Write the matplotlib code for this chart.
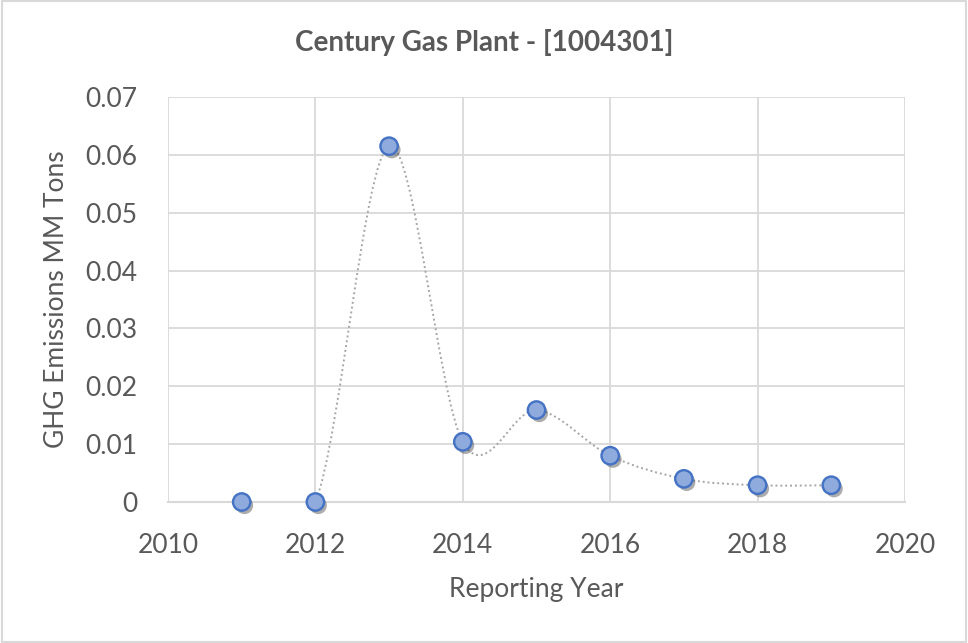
import numpy as np
import matplotlib.pyplot as plt
import matplotlib.patheffects as pe
from matplotlib.path import Path
from matplotlib.patches import PathPatch, Rectangle

plt.rcParams['font.family'] = ['Lato', 'DejaVu Sans']

years = [2011, 2012, 2013, 2014, 2015, 2016, 2017, 2018, 2019]
emissions = [0.0, 0.0, 0.0615, 0.0104, 0.0159, 0.0080, 0.0040, 0.0029, 0.0029]

title = 'Century Gas Plant - [1004301]'
x_label = 'Reporting Year'
y_label = 'GHG Emissions MM Tons'

text_col = '#595959'
grid_col = '#d9d9d9'


def excel_smooth(xs, ys):
    # catmull-rom style bezier, like excel's "smoothed line"
    p = np.column_stack([xs, ys]).astype(float)
    p_ext = np.vstack([p[0], p, p[-1]])
    verts = [p[0]]
    codes = [Path.MOVETO]
    for i in range(len(p) - 1):
        p0, p1, p2, p3 = p_ext[i], p_ext[i + 1], p_ext[i + 2], p_ext[i + 3]
        c1 = p1 + (p2 - p0) / 6.0
        c2 = p2 - (p3 - p1) / 6.0
        verts += [c1, c2, p2]
        codes += [Path.CURVE4] * 3
    return Path(verts, codes)


fig = plt.figure(figsize=(9.68, 6.43), dpi=100)
ax = fig.add_axes([168 / 968, 1 - 502 / 643, 737 / 968, 405 / 643])

curve = PathPatch(excel_smooth(years, emissions), facecolor='none', edgecolor='#a6a6a6',
                  lw=1.4, linestyle=(0, (1, 1.5)), zorder=3)
ax.add_patch(curve)

ax.plot(years, emissions, linestyle='none', marker='o', markersize=12.5, clip_on=False,
        markerfacecolor='#8faadc', markeredgecolor='#4472c4', markeredgewidth=1.7, zorder=4,
        path_effects=[pe.SimplePatchShadow(offset=(2, -2.5), shadow_rgbFace='#303030', alpha=0.4),
                      pe.Normal()])

ax.set_xlim(2010, 2020)
ax.set_ylim(0, 0.07)
ax.set_xticks(np.arange(2010, 2021, 2))
ax.set_yticks(np.arange(0, 0.071, 0.01))
ax.set_yticklabels(['0'] + ['%.2f' % v for v in np.arange(0.01, 0.071, 0.01)])
ax.grid(True, color=grid_col, lw=1.3)
ax.set_axisbelow(True)
for s in ['left', 'right', 'top']:
    ax.spines[s].set_visible(False)
ax.spines['bottom'].set_color(grid_col)
ax.spines['bottom'].set_linewidth(1.5)
ax.tick_params(length=0, labelsize=19, labelcolor=text_col)
ax.tick_params(axis='y', pad=22)
ax.tick_params(axis='x', pad=22)

ax.set_xlabel(x_label, fontsize=19, color=text_col)
ax.xaxis.label.set_va('center')
ax.xaxis.set_label_coords(0.5, (502 - 590) / 405)
ax.set_ylabel(y_label, fontsize=19, color=text_col)
ax.yaxis.label.set_va('center')
ax.yaxis.set_label_coords((57 - 168) / 737, 0.5)

fig.text(0.5, 1 - 43 / 643, title, ha='center', va='center', fontsize=20,
         fontweight='bold', color=text_col)

fig.patches.append(Rectangle((0.002, 0.002), 0.996, 0.996, transform=fig.transFigure,
                             fill=False, edgecolor='#d9d9d9', lw=1.5))

fig.savefig('out.png', dpi=100)
